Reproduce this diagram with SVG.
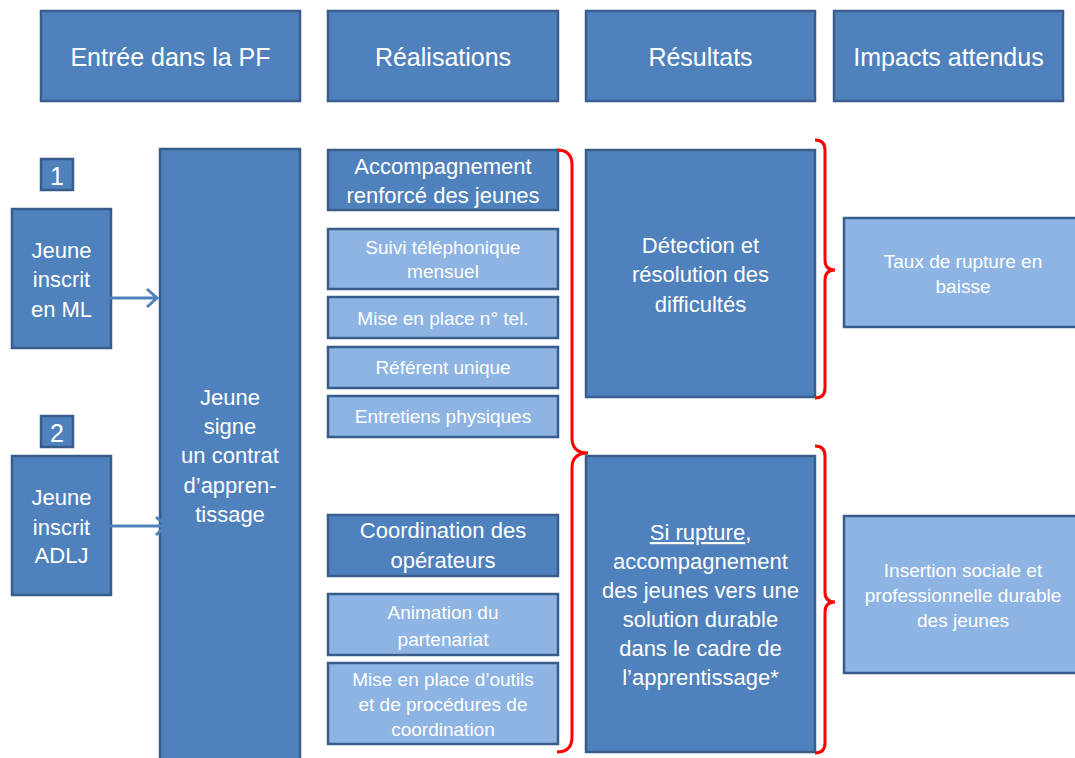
<svg xmlns="http://www.w3.org/2000/svg" width="1075" height="758" viewBox="0 0 1075 758">
<defs>
<style>
.d{fill:#4F81BD;stroke:#385D8A;stroke-width:2.5}
.l{fill:#8DB4E2;stroke:#385D8A;stroke-width:2.5}
text{font-family:"Liberation Sans",Arial,sans-serif;fill:#FFFFFF;text-anchor:middle}
.h{font-size:25px}
.m{font-size:22px}
.s{font-size:19px}
.br{fill:none;stroke:#FF0000;stroke-width:3}
.ar{fill:none;stroke:#4F81BD;stroke-width:3}
</style>
</defs>
<rect width="1075" height="758" fill="#FFFFFF"/>
<g id="h1"><rect class="d" x="41" y="11" width="259" height="90"/><text class="h" x="170.5" y="66">Entrée dans la PF</text></g>
<g id="h2"><rect class="d" x="328" y="11" width="230" height="90"/><text class="h" x="443" y="66">Réalisations</text></g>
<g id="h3"><rect class="d" x="586" y="11" width="229" height="90"/><text class="h" x="700.5" y="66">Résultats</text></g>
<g id="h4"><rect class="d" x="834" y="11" width="229" height="90"/><text class="h" x="948.5" y="66">Impacts attendus</text></g>

<g id="n1"><rect class="d" x="41" y="159" width="32" height="31"/><text class="h" x="57" y="185">1</text></g>
<g id="n2"><rect class="d" x="41" y="416" width="32" height="31"/><text class="h" x="57" y="442">2</text></g>

<g id="ml"><rect class="d" x="12" y="209" width="99" height="139"/><text class="m" x="61.5"><tspan x="61.5" y="258">Jeune</tspan><tspan x="61.5" y="287">inscrit</tspan><tspan x="61.5" y="317">en ML</tspan></text></g>
<g id="adlj"><rect class="d" x="12" y="456" width="99" height="139"/><text class="m" x="61.5"><tspan x="61.5" y="505">Jeune</tspan><tspan x="61.5" y="535">inscrit</tspan><tspan x="61.5" y="563">ADLJ</tspan></text></g>

<g id="contrat"><rect class="d" x="160" y="149" width="140" height="620"/><text class="m" x="230"><tspan x="230" y="405">Jeune</tspan><tspan x="230" y="434">signe</tspan><tspan x="230" y="463">un contrat</tspan><tspan x="230" y="493">d’appren-</tspan><tspan x="230" y="522">tissage</tspan></text></g>

<g id="accomp"><rect class="d" x="328" y="150" width="230" height="60"/><text class="m" x="443"><tspan x="443" y="174">Accompagnement</tspan><tspan x="443" y="203">renforcé des jeunes</tspan></text></g>
<g id="suivi"><rect class="l" x="328" y="229" width="230" height="60"/><text class="s" x="443"><tspan x="443" y="254">Suivi téléphonique</tspan><tspan x="443" y="278">mensuel</tspan></text></g>
<g id="tel"><rect class="l" x="328" y="297" width="230" height="41"/><text class="s" x="443" y="325">Mise en place n° tel.</text></g>
<g id="ref"><rect class="l" x="328" y="347" width="230" height="41"/><text class="s" x="443" y="374">Référent unique</text></g>
<g id="entr"><rect class="l" x="328" y="396" width="230" height="41"/><text class="s" x="443" y="423">Entretiens physiques</text></g>

<g id="coord"><rect class="d" x="328" y="515" width="230" height="61"/><text class="m" x="443"><tspan x="443" y="538">Coordination des</tspan><tspan x="443" y="568">opérateurs</tspan></text></g>
<g id="anim"><rect class="l" x="328" y="594" width="230" height="61"/><text class="s" x="443"><tspan x="443" y="619">Animation du</tspan><tspan x="443" y="646">partenariat</tspan></text></g>
<g id="outils"><rect class="l" x="328" y="663" width="230" height="81"/><text class="s" x="443"><tspan x="443" y="686">Mise en place d’outils</tspan><tspan x="443" y="711">et de procédures de</tspan><tspan x="443" y="736">coordination</tspan></text></g>

<g id="detect"><rect class="d" x="586" y="150" width="229" height="247"/><text class="m" x="700.5"><tspan x="700.5" y="253">Détection et</tspan><tspan x="700.5" y="282">résolution des</tspan><tspan x="700.5" y="312">difficultés</tspan></text></g>
<g id="rupture"><rect class="d" x="586" y="456" width="229" height="296"/><text class="m" x="700.5"><tspan x="700.5" y="540" text-decoration="underline">Si rupture</tspan><tspan>,</tspan><tspan x="700.5" y="569">accompagnement</tspan><tspan x="700.5" y="598">des jeunes vers une</tspan><tspan x="700.5" y="627">solution durable</tspan><tspan x="700.5" y="656">dans le cadre de</tspan><tspan x="700.5" y="685">l’apprentissage*</tspan></text></g>

<g id="taux"><rect class="l" x="844" y="218" width="240" height="109"/><text class="s" x="963"><tspan x="963" y="268">Taux de rupture en</tspan><tspan x="963" y="293">baisse</tspan></text></g>
<g id="insertion"><rect class="l" x="844" y="516" width="240" height="157"/><text class="s" x="963"><tspan x="963" y="577">Insertion sociale et</tspan><tspan x="963" y="602">professionnelle durable</tspan><tspan x="963" y="627">des jeunes</tspan></text></g>

<g id="connectors">
<path class="ar" d="M91 298 H157 M147 289 L157 298 L147 307"/>
<path class="ar" d="M102 526 H166 M156 517 L166 526 L156 535"/>
<path class="br" d="M557 150 Q572 150 572 165 L572 438 Q572 453 588 453 Q572 453 572 468 L572 737 Q572 752 557 752"/>
<path class="br" d="M815 140 Q825 140 825 150 L825 260 Q825 270 835 270 Q825 270 825 280 L825 388 Q825 398 815 398"/>
<path class="br" d="M815 446 Q825 446 825 456 L825 592 Q825 602 835 602 Q825 602 825 612 L825 743 Q825 753 815 753"/>
</g>
</svg>
